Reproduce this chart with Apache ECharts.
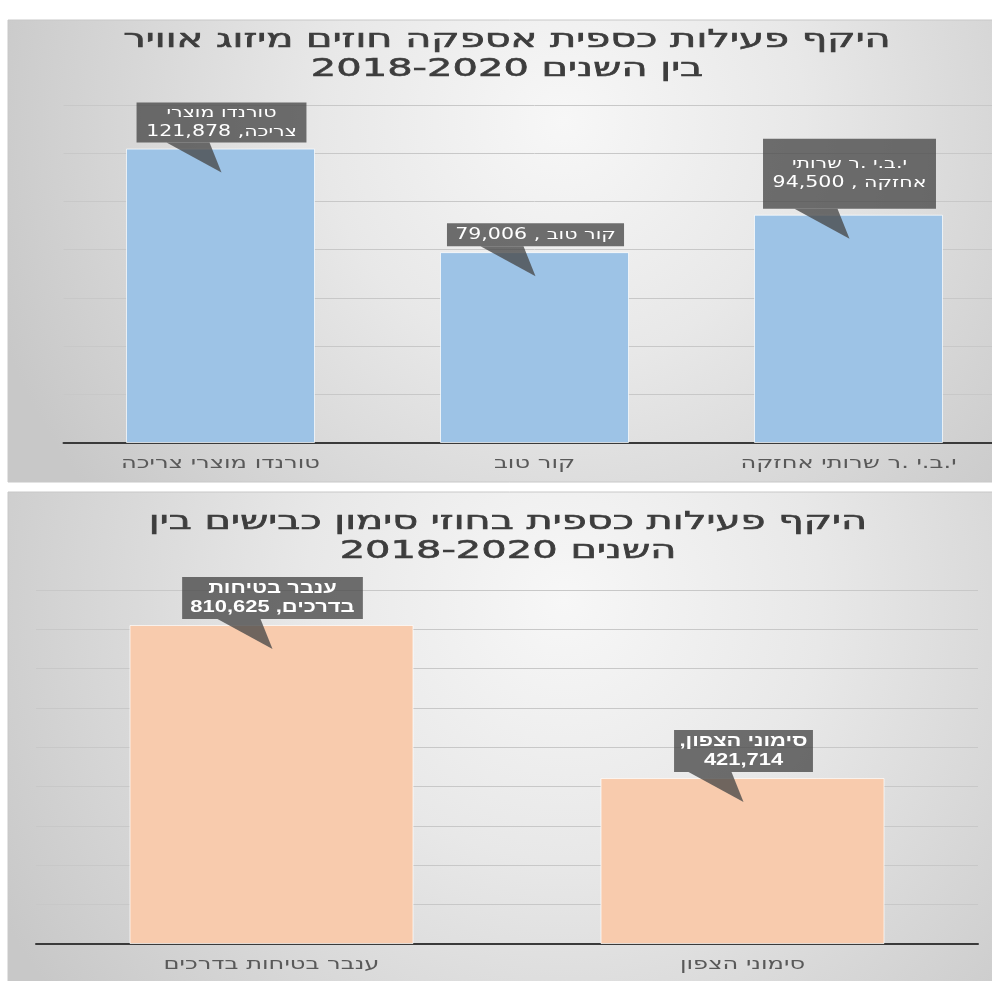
<!DOCTYPE html>
<html>
<head>
<meta charset="utf-8">
<script src="https://cdn.jsdelivr.net/npm/echarts@6/dist/echarts.min.js"></script>
<style>
html,body{margin:0;padding:0;background:#fff;overflow:hidden;}
#chart{width:1010px;height:981px;}
</style>
</head>
<body>
<div id="chart" dir="rtl"></div>
<script>
// ---- data ----
const title1 = ['היקף פעילות כספית אספקה חוזים מיזוג אוויר', 'בין השנים 2018-2020'];
const categories1 = ['טורנדו מוצרי צריכה', 'קור טוב', 'י.ב.י .ר שרותי אחזקה'];
const values1 = [121878, 79006, 94500];
const callouts1 = ['טורנדו מוצרי\nצריכה, 121,878', 'קור טוב , 79,006', 'י.ב.י .ר שרותי\nאחזקה , 94,500'];

const title2 = ['היקף פעילות כספית בחוזי סימון כבישים בין', 'השנים 2018-2020'];
const categories2 = ['ענבר בטיחות בדרכים', 'סימוני הצפון'];
const values2 = [810625, 421714];
const callouts2 = ['ענבר בטיחות\nבדרכים, 810,625', 'סימוני הצפון,\n421,714'];

// ---- styles ----
const STRETCH = 1.37;
const pad1 = [[1, 7], [2, 6], [16, 7]];
const pad2 = [[2, 6], [2, 4]];

const chart = echarts.init(document.getElementById('chart'));

function calloutRenderer(labels, pads, font) {
  return function (params, api) {
    const p = api.coord([api.value(0), api.value(1)]);
    const cx = p[0] + 1;
    const boxBottom = p[1] - 6;
    const tipY = p[1] + 24;
    const fill = 'rgba(72,72,72,0.78)';
    return {
      type: 'group',
      children: [
        {
          type: 'polygon',
          shape: { points: [[cx - 55, boxBottom], [cx - 12, boxBottom], [cx, tipY]] },
          style: { fill: fill }
        },
        {
          type: 'text',
          x: cx, y: boxBottom, scaleX: STRETCH,
          style: {
            text: labels[params.dataIndex],
            fill: '#ffffff',
            font: font,
            lineHeight: 19,
            align: 'center',
            verticalAlign: 'bottom',
            backgroundColor: fill,
            padding: pads[params.dataIndex]
          }
        }
      ]
    };
  };
}

// category labels under the axis (stretched like the reference)
function categoryLabelRenderer(names) {
  return function (params, api) {
    const p = api.coord([api.value(0), 0]);
    return {
      type: 'text',
      x: p[0], y: p[1] + 12, scaleX: 1.42,
      style: {
        text: names[params.dataIndex],
        fill: '#595959',
        font: '17px "DejaVu Sans"',
        align: 'center',
        verticalAlign: 'top'
      }
    };
  };
}

function panelGradient() {
  return {
    type: 'radial', x: 0.55, y: 0.22, r: 1.3,
    colorStops: [
      { offset: 0, color: '#f7f7f7' },
      { offset: 0.4, color: '#e8e8e8' },
      { offset: 1, color: '#c8c8c8' }
    ]
  };
}

function titleText(lines, x, y) {
  return {
    type: 'text', x: x, y: y, scaleX: 1.6, z: 10,
    style: {
      text: lines.join('\n'),
      font: '25px "DejaVu Sans"',
      lineHeight: 29,
      fill: '#3d3d3d',
      stroke: '#3d3d3d',
      lineWidth: 0.6,
      align: 'center',
      verticalAlign: 'top',
      shadowColor: 'rgba(0,0,0,0.3)',
      shadowBlur: 2,
      shadowOffsetX: 1,
      shadowOffsetY: 1
    }
  };
}

const option = {
  animation: false,
  backgroundColor: '#ffffff',
  graphic: [
    { type: 'rect', z: -100, shape: { x: 8, y: 20, width: 1010, height: 462 },
      style: { fill: panelGradient(), stroke: '#c8c8c8', lineWidth: 1 } },
    { type: 'rect', z: -100, shape: { x: 8, y: 492, width: 1010, height: 495 },
      style: { fill: panelGradient(), stroke: '#c8c8c8', lineWidth: 1 } },
    titleText(title1, 507, 26),
    titleText(title2, 508, 508)
  ],
  grid: [
    { left: 63.5, width: 942, top: 104.8, height: 338.2 },
    { left: 36, width: 942, top: 589.8, height: 354.2 }
  ],
  xAxis: [
    { type: 'category', gridIndex: 0, data: categories1,
      axisTick: { show: false },
      axisLine: { lineStyle: { color: '#3a3a3a', width: 2 } },
      axisLabel: { show: false } },
    { type: 'category', gridIndex: 1, data: categories2,
      axisTick: { show: false },
      axisLine: { lineStyle: { color: '#3a3a3a', width: 2 } },
      axisLabel: { show: false } }
  ],
  yAxis: [
    { type: 'value', gridIndex: 0, min: 0, max: 140000, interval: 20000,
      axisLabel: { show: false }, axisLine: { show: false }, axisTick: { show: false },
      splitLine: { lineStyle: { color: '#c8c8c8', width: 1 } } },
    { type: 'value', gridIndex: 1, min: 0, max: 900000, interval: 100000,
      axisLabel: { show: false }, axisLine: { show: false }, axisTick: { show: false },
      splitLine: { lineStyle: { color: '#c8c8c8', width: 1 } } }
  ],
  series: [
    { type: 'bar', xAxisIndex: 0, yAxisIndex: 0, data: values1, barWidth: 189,
      itemStyle: { color: '#9dc3e6', borderColor: 'rgba(255,255,255,0.7)', borderWidth: 1 } },
    { type: 'bar', xAxisIndex: 1, yAxisIndex: 1, data: values2, barWidth: 284,
      itemStyle: { color: '#f8cbad', borderColor: 'rgba(255,255,255,0.7)', borderWidth: 1 } },
    { type: 'custom', xAxisIndex: 0, yAxisIndex: 0, z: 5,
      data: values1.map((v, i) => [i, v]),
      renderItem: calloutRenderer(callouts1, pad1, '15px "DejaVu Sans"') },
    { type: 'custom', xAxisIndex: 1, yAxisIndex: 1, z: 5,
      data: values2.map((v, i) => [i, v]),
      renderItem: calloutRenderer(callouts2, pad2, 'bold 16px "Liberation Sans"') },
    { type: 'custom', xAxisIndex: 0, yAxisIndex: 0, z: 5, clip: false,
      data: categories1.map((c, i) => [i, 0]),
      renderItem: categoryLabelRenderer(categories1) },
    { type: 'custom', xAxisIndex: 1, yAxisIndex: 1, z: 5, clip: false,
      data: categories2.map((c, i) => [i, 0]),
      renderItem: categoryLabelRenderer(categories2) }
  ]
};
chart.setOption(option);
</script>
</body>
</html>
